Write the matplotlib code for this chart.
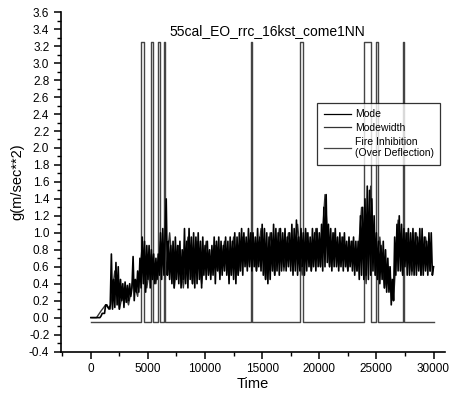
import numpy as np
import matplotlib
matplotlib.use('Agg')
import matplotlib.pyplot as plt
from matplotlib.ticker import MultipleLocator

plt.rcParams['font.family'] = ['Liberation Sans', 'DejaVu Sans']

# Mode, read every 100 time units (0 .. 30000), one row per 1000
mode_time = np.arange(0, 30001, 100)
mode_vals = [
    0.0, 0.0, 0.0, 0.0, 0.0, 0.0, 0.0, 0.0, 0.0, 0.02,
    0.05, 0.05, 0.05, 0.15, 0.15, 0.12, 0.1, 0.15, 0.75, 0.1,
    0.45, 0.12, 0.65, 0.15, 0.6, 0.1, 0.45, 0.2, 0.4, 0.12,
    0.42, 0.18, 0.38, 0.2, 0.4, 0.25, 0.35, 0.72, 0.2, 0.45,
    0.3, 0.55, 0.3, 0.7, 0.35, 0.95, 0.4, 0.9, 0.3, 0.85,
    0.45, 0.85, 0.35, 0.8, 0.45, 0.75, 0.4, 0.7, 0.45, 0.75,
    0.5, 1.0, 0.45, 1.05, 0.5, 0.95, 1.4, 0.5, 0.9, 0.45,
    0.85, 0.4, 0.9, 0.35, 0.95, 0.45, 0.85, 0.4, 0.9, 0.35,
    0.8, 0.45, 1.05, 0.4, 0.9, 0.35, 1.05, 0.45, 0.95, 0.4,
    1.0, 0.35, 0.95, 0.4, 1.0, 0.45, 0.9, 0.35, 0.95, 0.5,
    0.85, 0.45, 0.9, 0.5, 0.8, 0.45, 0.85, 0.5, 0.95, 0.4,
    0.9, 0.55, 0.95, 0.45, 0.9, 0.5, 0.85, 0.55, 0.95, 0.5,
    0.9, 0.4, 0.95, 0.5, 0.9, 0.45, 1.0, 0.4, 0.95, 0.5,
    1.0, 0.55, 1.05, 0.5, 1.0, 0.6, 0.95, 0.55, 1.05, 0.6,
    1.0, 0.55, 1.0, 0.6, 0.95, 0.55, 1.05, 0.6, 0.95, 0.55,
    1.1, 0.5, 1.05, 0.45, 1.0, 0.4, 0.95, 0.45, 1.0, 0.55,
    1.1, 0.5, 1.05, 0.55, 1.0, 0.5, 1.05, 0.55, 1.0, 0.6,
    1.05, 0.55, 0.95, 0.6, 1.0, 0.55, 1.1, 0.5, 1.05, 0.55,
    1.15, 0.5, 0.95, 0.55, 1.05, 0.6, 1.0, 0.5, 1.05, 0.55,
    1.0, 0.6, 0.95, 0.55, 1.05, 0.6, 1.0, 0.55, 1.05, 0.6,
    1.0, 0.6, 1.1, 0.55, 1.3, 0.6, 1.45, 0.65, 1.1, 0.6,
    1.05, 0.55, 1.0, 0.6, 1.05, 0.6, 0.95, 0.55, 1.0, 0.6,
    0.95, 0.55, 1.0, 0.6, 0.9, 0.55, 0.95, 0.6, 0.9, 0.55,
    0.95, 0.5, 0.9, 0.55, 0.9, 0.45, 1.2, 0.5, 1.3, 0.45,
    1.4, 0.5, 1.55, 0.45, 1.5, 0.5, 1.4, 0.55, 1.2, 0.5,
    1.0, 0.45, 0.9, 0.4, 0.85, 0.45, 0.9, 0.35, 0.8, 0.3,
    0.7, 0.3, 0.6, 0.15, 0.45, 0.2, 0.95, 0.5, 1.1, 0.55,
    1.2, 0.55, 1.1, 0.5, 1.05, 0.6, 1.0, 0.5, 1.05, 0.5,
    1.0, 0.55, 1.05, 0.5, 1.0, 0.5, 0.95, 0.55, 1.05, 0.5,
    1.05, 0.5, 0.95, 0.55, 0.9, 0.5, 1.0, 0.55, 1.0, 0.5,
    0.6,
]

# Modewidth, read every 400 time units starting at 100
width_time = np.arange(100, 30000, 400)
width_vals = [
    0.0, 0.0, 0.08, 0.15, 0.1,
    0.55, 0.1, 0.35, 0.15, 0.45,
    0.25, 0.85, 0.35, 0.75, 0.4,
    0.9, 0.45, 1.0, 0.35, 0.85,
    0.35, 0.95, 0.4, 0.9, 0.4,
    0.9, 0.5, 0.85, 0.5, 0.9,
    0.45, 0.95, 0.5, 0.95, 0.6,
    1.0, 0.55, 1.05, 0.45, 1.0,
    0.5, 1.05, 0.55, 1.0, 0.55,
    1.1, 0.5, 1.0, 0.55, 1.05,
    0.6, 1.45, 0.6, 1.0, 0.6,
    0.95, 0.55, 0.9, 0.55, 1.3,
    0.4, 1.55, 0.5, 0.95, 0.35,
    0.6, 0.2, 1.15, 0.5, 1.0,
    0.5, 1.0, 0.5, 0.95, 0.55,
]

# Fire inhibition pulses (start, end) in time units
fire_starts = [4350, 5270, 5850, 6380, 13980, 18300, 23900, 25000, 27350]
fire_ends = [4650, 5420, 6100, 6530, 14080, 18600, 24500, 25150, 27450]
fire_low = -0.05
fire_high = 3.25

fire_t = [0]
fire_v = [fire_low]
for s, e in zip(fire_starts, fire_ends):
    fire_t += [s, s, e, e]
    fire_v += [fire_low, fire_high, fire_high, fire_low]
fire_t.append(30000)
fire_v.append(fire_low)

fig = plt.figure(figsize=(4.63, 3.95), dpi=100)
ax = fig.add_axes([0.132, 0.11, 0.829, 0.859])

ax.plot(fire_t, fire_v, color='#444444', lw=1.0, label='Fire Inhibition\n(Over Deflection)', zorder=2)
ax.plot(width_time, width_vals, color='#333333', lw=1.0, label='Modewidth', zorder=3)
ax.plot(mode_time, mode_vals, color='black', lw=1.2, label='Mode', zorder=4)

ax.set_xlim(-2600, 31000)
ax.set_ylim(-0.4, 3.6)
ax.xaxis.set_minor_locator(MultipleLocator(2500))
ax.yaxis.set_minor_locator(MultipleLocator(0.1))
ax.set_xticks([0, 5000, 10000, 15000, 20000, 25000, 30000])
yt = np.round(np.arange(-0.4, 3.61, 0.2), 1)
ax.set_yticks(yt)
ax.set_yticklabels([f'{v:.1f}' for v in yt])

for side in ['top', 'right']:
    ax.spines[side].set_visible(False)
for side in ['left', 'bottom']:
    ax.spines[side].set_linewidth(1.2)

ax.tick_params(which='major', direction='out', length=5, width=1.1, labelsize=8.5)
ax.tick_params(which='minor', direction='out', length=3, width=1.0)

ax.set_xlabel('Time', fontsize=10.5, labelpad=1)
ax.set_ylabel('g(m/sec**2)', fontsize=10.5, labelpad=3)
fig.text(0.578, 0.911, '55cal_EO_rrc_16kst_come1NN', ha='center', fontsize=10)

handles, labels = ax.get_legend_handles_labels()
order = [2, 1, 0]
leg = ax.legend([handles[i] for i in order], [labels[i] for i in order],
                loc='upper left', bbox_to_anchor=(0.654, 0.7475),
                fontsize=7.5, handlelength=2.6, frameon=True, fancybox=False,
                borderpad=0.6, labelspacing=0.35, handletextpad=0.4)
leg.get_frame().set_edgecolor('black')
leg.get_frame().set_linewidth(0.9)
for line in leg.get_lines():
    line.set_linewidth(0.9)

fig.savefig('out.png', dpi=100)
